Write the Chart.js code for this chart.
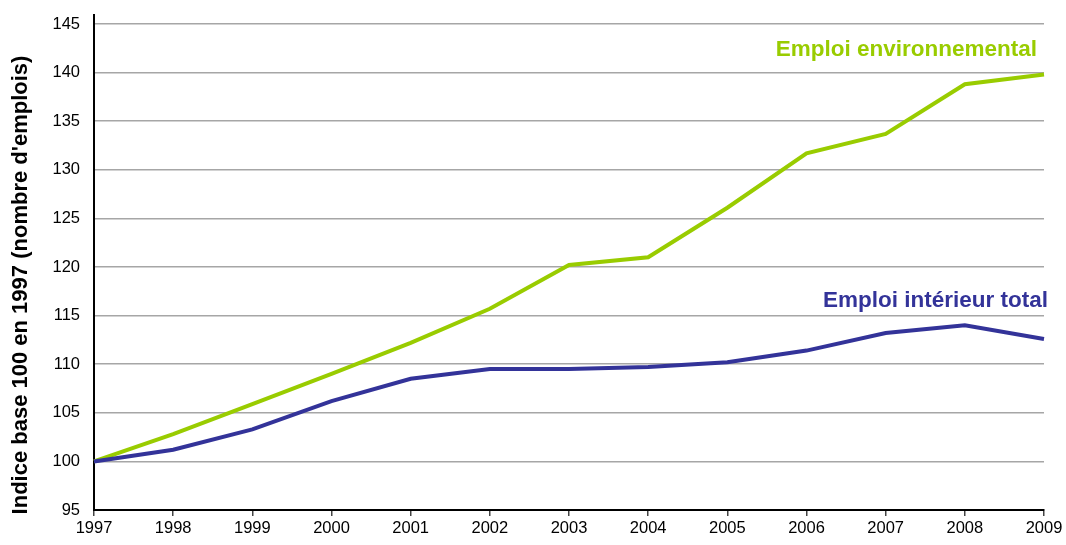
<!DOCTYPE html>
<html>
<head>
<meta charset="utf-8">
<script src="https://cdn.jsdelivr.net/npm/chart.js@4/dist/chart.umd.min.js"></script>
<style>
  html, body { margin: 0; padding: 0; background: #fff; }
  #wrap { width: 1066px; height: 545px; }
</style>
</head>
<body>
<div id="wrap"><canvas id="c" width="1066" height="545"></canvas></div>
<script>
// Data
const years = ['1997', '1998', '1999', '2000', '2001', '2002', '2003', '2004', '2005', '2006', '2007', '2008', '2009'];
const emploiEnv = [100, 102.8, 105.9, 109.0, 112.2, 115.7, 120.2, 121.0, 126.1, 131.7, 133.7, 138.8, 139.8];
const emploiTotal = [100, 101.2, 103.3, 106.2, 108.5, 109.5, 109.5, 109.7, 110.2, 111.4, 113.2, 114.0, 112.6];
const seriesNames = ['Emploi environnemental', 'Emploi intérieur total'];
const seriesColors = ['#99cc00', '#333399'];
// where each series name sits (year index, value)
const nameAnchors = [[12, 141.7], [12, 115.9]];
const nameShift = [-7, 4];

const yTitle = "Indice base 100 en 1997 (nombre d'emplois)";
const FONT = "'Liberation Sans', Arial, sans-serif";

// series names, y title (sits a bit lower than centred) and axis line above the top
const extras = {
  id: 'extras',
  afterDatasetsDraw(chart) {
    const ctx = chart.ctx;
    const xs = chart.scales.x, ys = chart.scales.y;
    ctx.save();
    ctx.font = 'bold 22.5px ' + FONT;
    ctx.textAlign = 'right';
    ctx.textBaseline = 'alphabetic';
    for (let i = 0; i < seriesNames.length; i++) {
      ctx.fillStyle = seriesColors[i];
      ctx.fillText(seriesNames[i],
        xs.getPixelForValue(nameAnchors[i][0]) + nameShift[i],
        ys.getPixelForValue(nameAnchors[i][1]));
    }
    // y axis title
    ctx.save();
    ctx.translate(21, 285);
    ctx.rotate(-Math.PI / 2);
    ctx.font = 'bold 22px ' + FONT;
    ctx.fillStyle = '#000';
    ctx.textAlign = 'center';
    ctx.textBaseline = 'middle';
    ctx.fillText(yTitle, 0, 0);
    ctx.restore();
    // extend y axis line above 145
    ctx.strokeStyle = '#000';
    ctx.lineWidth = 2;
    ctx.beginPath();
    ctx.moveTo(xs.left, ys.top);
    ctx.lineTo(xs.left, ys.top - 10);
    ctx.stroke();
    ctx.restore();
  }
};

new Chart(document.getElementById('c'), {
  type: 'line',
  data: {
    labels: years,
    datasets: [
      { label: seriesNames[1], data: emploiTotal, borderColor: seriesColors[1], borderWidth: 4, pointRadius: 0, tension: 0 },
      { label: seriesNames[0], data: emploiEnv, borderColor: seriesColors[0], borderWidth: 4, pointRadius: 0, tension: 0 }
    ]
  },
  options: {
    responsive: false,
    animation: false,
    layout: { padding: { top: 24, right: 22, left: 0, bottom: 0 } },
    plugins: { legend: { display: false }, tooltip: { enabled: false } },
    scales: {
      x: {
        offset: false,
        border: { color: '#000', width: 2 },
        grid: { drawOnChartArea: false, drawTicks: true, tickLength: 6, color: '#444', lineWidth: 1.5 },
        ticks: { color: '#000', font: { family: FONT, size: 16.5 }, padding: 3, maxRotation: 0, autoSkip: false },
        afterFit(s) { s.height = 35; }
      },
      y: {
        min: 95,
        max: 145,
        border: { color: '#000', width: 2 },
        grid: { color: '#a6a6a6', lineWidth: 1.5, drawTicks: false },
        ticks: { stepSize: 5, color: '#000', font: { family: FONT, size: 16.5 }, padding: 14 },
        afterFit(s) { s.width = 94; }
      }
    }
  },
  plugins: [extras]
});
</script>
</body>
</html>
